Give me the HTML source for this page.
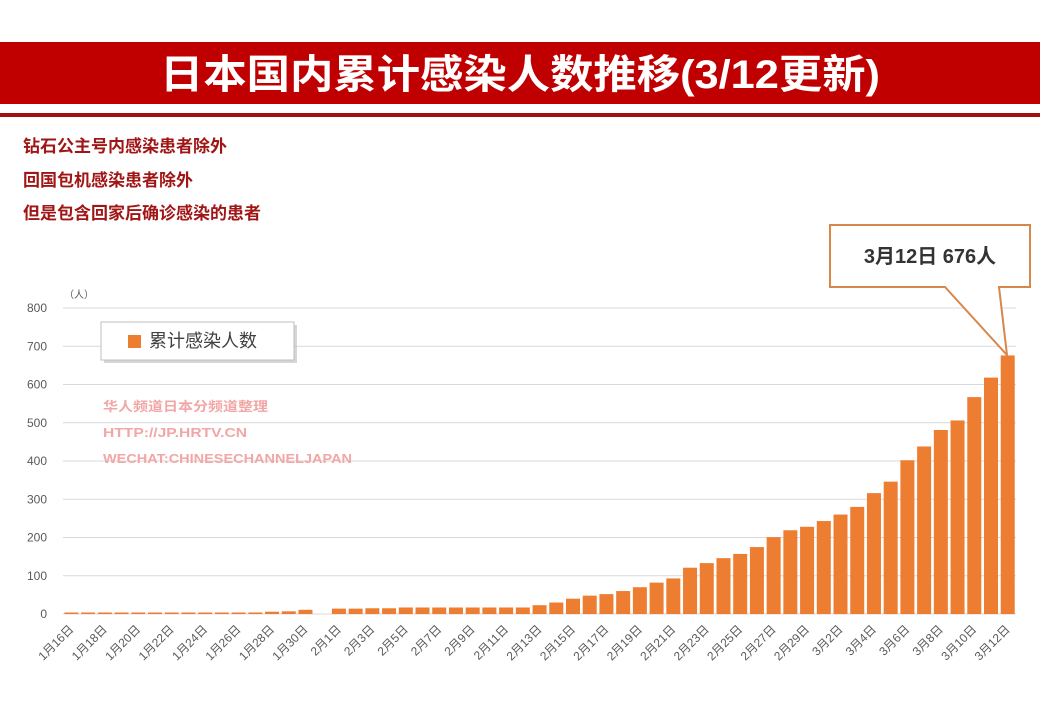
<!DOCTYPE html>
<html><head><meta charset="utf-8">
<style>
html,body{margin:0;padding:0;background:#fff;}
body{width:1040px;height:720px;position:relative;overflow:hidden;font-family:"Liberation Sans","Noto Sans CJK SC",sans-serif;}
</style></head>
<body>
<svg id="s" width="1040" height="720" xmlns="http://www.w3.org/2000/svg" style="position:absolute;left:0;top:0">
<rect x="0" y="42" width="1040" height="62" fill="#c00000"/>
<rect x="0" y="113" width="1040" height="4" fill="#a01010"/>
<text x="520" y="88" text-anchor="middle" fill="#fff" font-size="40" font-weight="bold" font-family="Liberation Sans,Noto Sans CJK SC,sans-serif" textLength="720" lengthAdjust="spacingAndGlyphs">日本国内累计感染人数推移(3/12更新)</text>
<g fill="#a01515" font-size="17" font-weight="bold" font-family="Liberation Sans,Noto Sans CJK SC,sans-serif">
<text x="23" y="152">钻石公主号内感染患者除外</text>
<text x="23" y="186">回国包机感染患者除外</text>
<text x="23" y="219">但是包含回家后确诊感染的患者</text>
</g>
<g id="grid" stroke="#d9d9d9" stroke-width="1"></g>
<g id="ylab" fill="#595959" font-size="12" text-anchor="end" font-family="Liberation Sans,sans-serif"></g>
<text x="64" y="298" fill="#595959" font-size="10" font-family="Liberation Sans,Noto Sans CJK SC,sans-serif">（人）</text>
<g id="bars" fill="#ed7d31"></g>
<g id="xlab" fill="#595959" font-size="12" font-family="Liberation Sans,Noto Sans CJK SC,sans-serif"></g>
<g fill="#f2a6a6" font-size="13" font-weight="bold" font-family="Liberation Sans,Noto Sans CJK SC,sans-serif">
<text x="103" y="411" textLength="165" lengthAdjust="spacingAndGlyphs">华人频道日本分频道整理</text>
<text x="103" y="437" textLength="144" lengthAdjust="spacingAndGlyphs">HTTP://JP.HRTV.CN</text>
<text x="103" y="463" textLength="249" lengthAdjust="spacingAndGlyphs">WECHAT:CHINESECHANNELJAPAN</text>
</g>
<rect x="104" y="325" width="193" height="38" fill="#bbb" opacity="0.6"/>
<rect x="101" y="322" width="193" height="38" fill="#fff" stroke="#bfbfbf"/>
<rect x="128" y="335" width="13" height="13" fill="#ed7d31"/>
<text x="149" y="347" fill="#404040" font-size="18" font-family="Liberation Sans,Noto Sans CJK SC,sans-serif">累计感染人数</text>
<polygon points="830,225 1030,225 1030,287 999,287 1007,355 945,287 830,287" fill="#fff" stroke="#d8874a" stroke-width="2"/>
<text x="930" y="263" text-anchor="middle" fill="#333" font-size="20" font-weight="bold" font-family="Liberation Sans,Noto Sans CJK SC,sans-serif">3月12日  676人</text>
</svg>
<script>
var NS="http://www.w3.org/2000/svg";
function el(p,t,a,txt){var e=document.createElementNS(NS,t);for(var k in a)e.setAttribute(k,a[k]);if(txt!=null)e.textContent=txt;document.getElementById(p).appendChild(e);}
for(var v=0;v<=800;v+=100){var y=614-v*0.3825;el("grid","line",{x1:63,x2:1016,y1:y,y2:y});el("ylab","text",{x:47,y:y+4},String(v));}
var vals=[1,1,1,1,1,1,1,1,1,1,3,4,6,7,11,null,14,14,15,15,17,17,17,17,17,17,17,17,23,30,40,48,52,60,70,82,93,121,133,146,157,175,201,219,228,243,260,280,316,346,402,438,481,506,567,618,676];
var dates=[];for(var d=16;d<=31;d++)dates.push("1月"+d+"日");for(var d=1;d<=29;d++)dates.push("2月"+d+"日");for(var d=1;d<=12;d++)dates.push("3月"+d+"日");
var w=16.72;
for(var i=0;i<57;i++){var v=vals[i];var x=63+w*i+1.4;
 if(v!=null){var h=Math.max(v*0.3825,1.5);el("bars","rect",{x:x,y:614-h,width:14,height:h});}
 if(i%2==0){var cx=63+w*(i+0.5)+3,cy=630;el("xlab","text",{x:cx,y:cy,"text-anchor":"end",transform:"rotate(-45 "+cx+" "+cy+")"},dates[i]);}
}
</script>
</body></html>
